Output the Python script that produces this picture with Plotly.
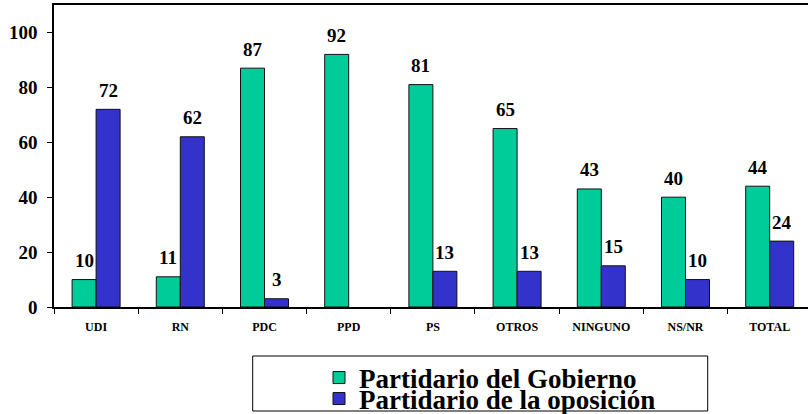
import plotly.graph_objects as go

categories = ["UDI", "RN", "PDC", "PPD", "PS", "OTROS", "NINGUNO", "NS/NR", "TOTAL"]
gobierno = [10, 11, 87, 92, 81, 65, 43, 40, 44]
oposicion = [72, 62, 3, None, 13, 13, 15, 10, 24]
series_names = ["Partidario del Gobierno", "Partidario de la oposición"]
y_ticks = [0, 20, 40, 60, 80, 100]

GREEN = "#00CC99"
BLUE = "#3333CC"
FONT = "Liberation Serif, Times New Roman, serif"
BARGAP = 0.43

fig = go.Figure()
fig.add_trace(go.Bar(x=categories, y=gobierno, name=series_names[0],
                     marker=dict(color=GREEN, line=dict(color="#111111", width=1)),
                     legend="legend", showlegend=True))
fig.add_trace(go.Bar(x=categories, y=oposicion, name=series_names[1],
                     marker=dict(color=BLUE, line=dict(color="#111111", width=1)),
                     legend="legend2", showlegend=True))

# value labels above bars
half = (1 - BARGAP) / 4
for series, off in ((gobierno, -half), (oposicion, half)):
    for i, v in enumerate(series):
        if v is None:
            continue
        fig.add_annotation(x=i + off, y=v, xref="x", yref="y", text=str(v),
                           showarrow=False, yanchor="middle", yshift=19,
                           font=dict(family=FONT, size=19, color="black", weight="bold"))

# legend frame
fig.add_shape(type="rect", xref="paper", yref="paper",
              x0=(252.7 - 54) / 754, x1=(707.7 - 54) / 754,
              y0=(307 - 411) / 302, y1=(307 - 356) / 302,
              line=dict(color="black", width=1), fillcolor="rgba(0,0,0,0)")

legend_common = dict(font=dict(family=FONT, size=27, color="black", weight="bold"),
                     bgcolor="rgba(0,0,0,0)", borderwidth=0,
                     xanchor="left", yanchor="middle", x=(319 - 54) / 754)

fig.update_layout(
    width=808, height=414,
    margin=dict(l=54, r=0, t=5, b=107, autoexpand=False),
    paper_bgcolor="white", plot_bgcolor="white",
    barmode="group", bargap=BARGAP, bargroupgap=0,
    showlegend=True,
    font=dict(family=FONT, color="black"),
    legend=dict(**legend_common, y=(307 - 378) / 302),
    legend2=dict(**legend_common, y=(307 - 399) / 302),
    xaxis=dict(type="category", range=[-0.5, 8.455], showgrid=False,
               showline=True, linecolor="black", linewidth=1.5, mirror=True,
               ticks="outside", ticklen=5, tickcolor="black", tickwidth=1,
               tickson="boundaries", ticklabelstandoff=8,
               tickfont=dict(family=FONT, size=12, color="black", weight="bold")),
    yaxis=dict(range=[0, 110], tickvals=y_ticks, showgrid=False, zeroline=False,
               showline=True, linecolor="black", linewidth=1.5,
               ticks="outside", ticklen=5, tickcolor="black", tickwidth=1,
               ticklabelstandoff=6,
               tickfont=dict(family=FONT, size=19, color="black", weight="bold")),
)

fig.write_html("out.html", config={"displayModeBar": False},
               post_script="document.body.style.margin='0';")
